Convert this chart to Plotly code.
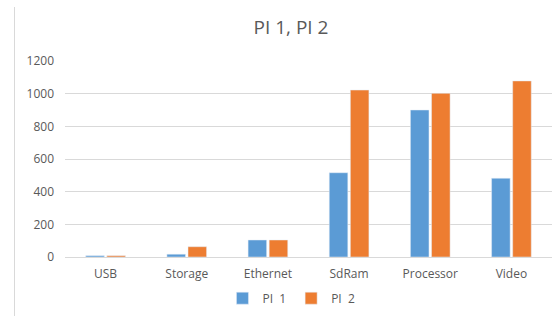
import plotly.graph_objects as go

categories = ["USB", "Storage", "Ethernet", "SdRam", "Processor", "Video"]
pi1 = [8, 17, 104, 516, 900, 482]
pi2 = [8, 63, 104, 1022, 1002, 1078]
y_ticks = [0, 200, 400, 600, 800, 1000, 1200]

FONT = "Open Sans"
GRAY = "#595959"

fig = go.Figure()
fig.add_trace(go.Bar(name="PI  1", x=categories, y=pi1, marker_color="#5B9BD5"))
fig.add_trace(go.Bar(name="PI  2", x=categories, y=pi2, marker_color="#ED7D31"))

fig.update_layout(
    width=552, height=316,
    margin=dict(l=65, r=0, t=61, b=59),
    paper_bgcolor="white", plot_bgcolor="white",
    barmode="group", bargap=0.48, bargroupgap=0.12,
    font=dict(family=FONT, color=GRAY, size=12),
    title=dict(text="PI 1, PI 2", x=291 / 552, xanchor="center",
               y=1 - 27 / 316, yanchor="middle",
               font=dict(family=FONT, size=19, color=GRAY)),
    legend=dict(orientation="h", x=0.465, xanchor="center", y=-0.21, yanchor="middle",
                font=dict(family=FONT, size=12, color=GRAY),
                itemwidth=30, traceorder="normal"),
    showlegend=True,
)
fig.update_yaxes(range=[0, 1200], tickvals=y_ticks, showgrid=True, gridcolor="#d9d9d9",
                 gridwidth=1, zeroline=False, showline=False, ticks="",
                 ticklabelstandoff=10, tickfont=dict(size=12, color=GRAY))
fig.update_xaxes(showline=True, linecolor="#d9d9d9", linewidth=1, ticks="",
                 ticklabelstandoff=6, tickfont=dict(size=12, color=GRAY))

fig.add_shape(type="line", xref="paper", yref="paper",
              x0=(14.5 - 65) / 487, x1=(14.5 - 65) / 487,
              y0=(257 - 7) / 196, y1=(257 - 320) / 196,
              line=dict(color="#d9d9d9", width=1))

fig.write_html("out.html", config={"displayModeBar": False},
               post_script="document.body.style.margin='0';")
